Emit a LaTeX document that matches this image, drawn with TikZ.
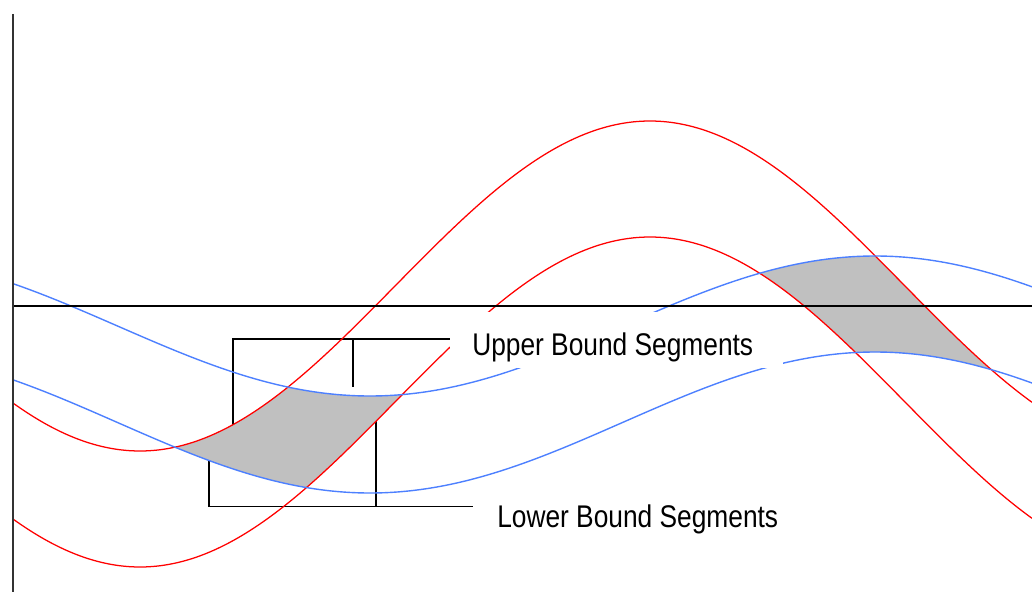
\documentclass[tikz,border=0pt]{standalone}
\usepackage{fontspec}
\setmainfont[FakeStretch=0.84]{Liberation Sans}
\definecolor{curvered}{RGB}{255,0,0}
\definecolor{curveblue}{RGB}{77,128,255}
\definecolor{shadegray}{RGB}{192,192,192}
\definecolor{axisgray}{RGB}{51,51,51}
\begin{document}
\begin{tikzpicture}[x=0.75pt,y=-0.75pt,
  redcurve/.style={draw=curvered,line width=0.95pt},
  bluecurve/.style={draw=curveblue,line width=1.05pt},
  bracketline/.style={draw=black,line width=1.15pt},
  labeltext/.style={font=\fontsize{23.5}{27}\selectfont,anchor=base west,inner sep=0pt}]
\useasboundingbox (0,0) rectangle (1032,592);
% bracket lines (partly hidden under the shading)
\coordinate (ubA) at (233,445);
\coordinate (ubB) at (233,339);
\coordinate (ubC) at (452,339);
\coordinate (ubT1) at (353,339);
\coordinate (ubT2) at (353,387);
\coordinate (lbA) at (209,445);
\coordinate (lbB) at (209,506.5);
\coordinate (lbC) at (473,506.5);
\coordinate (lbT1) at (376,405);
\coordinate (lbT2) at (376,506.5);
\draw[bracketline] (ubA) -- (ubB) -- (ubC);
\draw[bracketline] (ubT1) -- (ubT2);
\draw[bracketline] (lbA) -- (lbB) -- (lbC);
\draw[bracketline] (lbT1) -- (lbT2);
% shaded overlap regions
\begin{scope}
\clip plot[domain=13:1032,samples=300] (\x,{326+70*cos((\x-370)*0.356436)})
  -- plot[domain=1032:13,samples=300] (\x,{422.5+70.5*cos((\x-370)*0.356436)}) -- cycle;
\fill[shadegray] plot[domain=13:1032,samples=300] (\x,{286-165*cos((\x-650)*0.352941)})
  -- plot[domain=1032:13,samples=300] (\x,{402-165*cos((\x-650)*0.352941)}) -- cycle;
\end{scope}
% curves
\draw[redcurve] plot[domain=13:1032,samples=300] (\x,{286-165*cos((\x-650)*0.352941)});
\draw[redcurve] plot[domain=13:1032,samples=300] (\x,{402-165*cos((\x-650)*0.352941)});
\draw[bluecurve] plot[domain=13:1032,samples=300] (\x,{326+70*cos((\x-370)*0.356436)});
\draw[bluecurve] plot[domain=13:1032,samples=300] (\x,{422.5+70.5*cos((\x-370)*0.356436)});
% axes
\draw[black,line width=1pt] (13,306) -- (1032,306);
\draw[axisgray,line width=2pt] (13,14) -- (13,592);
% label backgrounds and labels
\fill[white] (450,312) rectangle (783,368);
\node[labeltext] (upperlabel) at (472,355) {Upper Bound Segments};
\node[labeltext] (lowerlabel) at (497,527) {Lower Bound Segments};
\end{tikzpicture}
\end{document}
